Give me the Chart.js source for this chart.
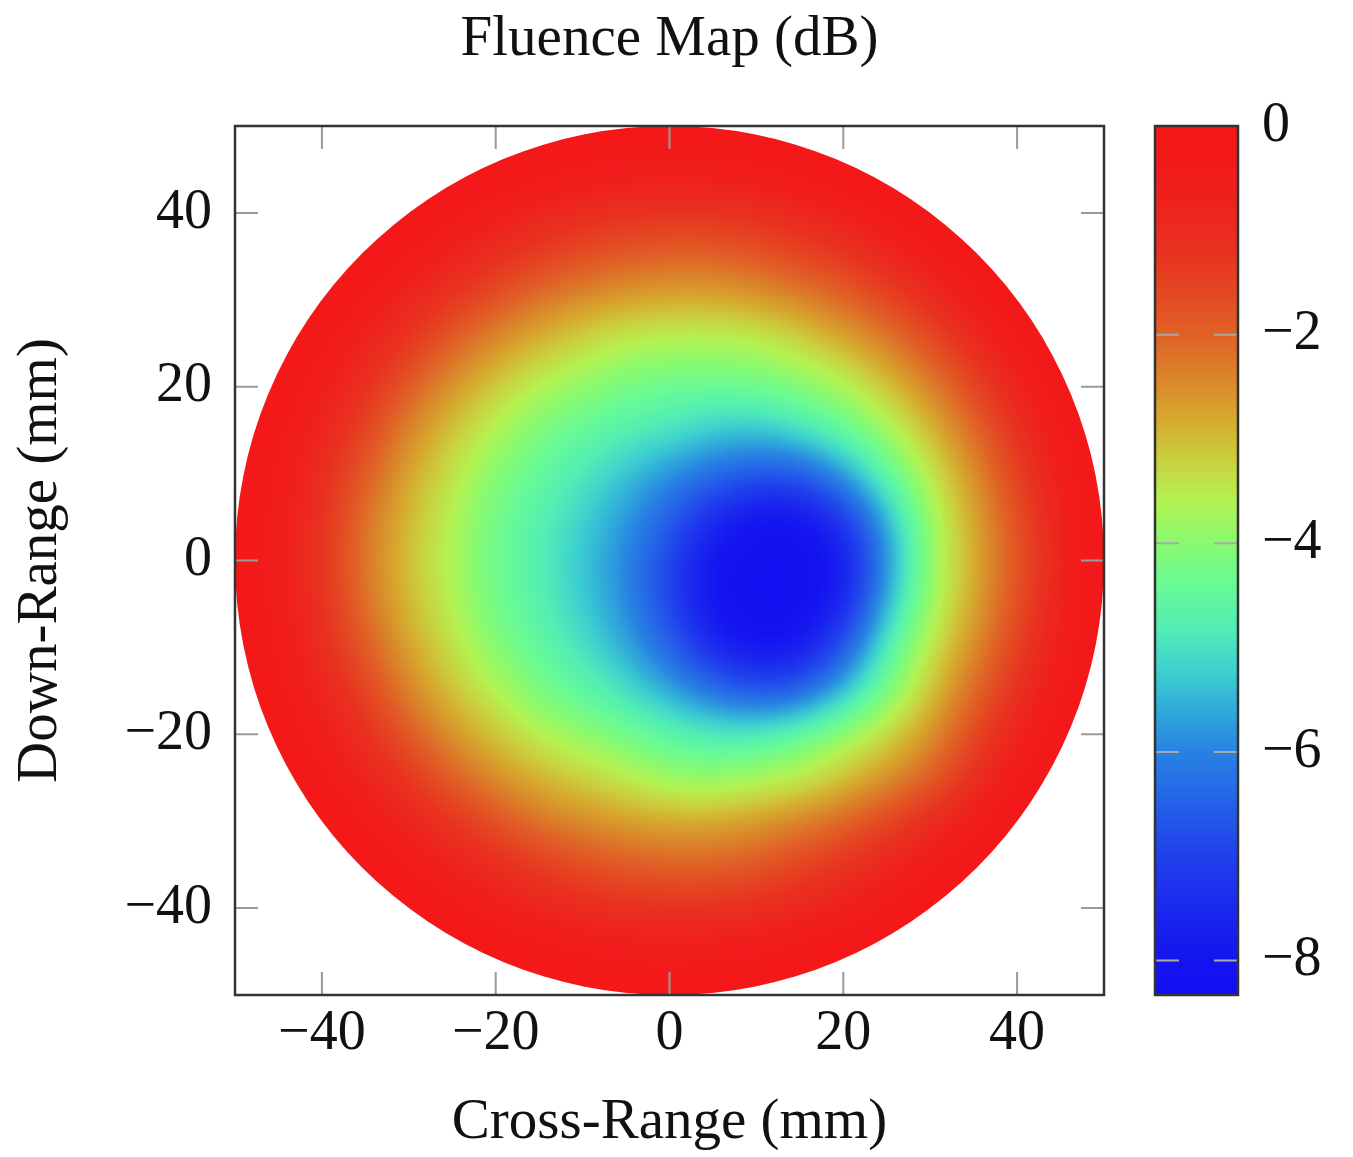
<!DOCTYPE html>
<html>
<head>
<meta charset="utf-8">
<title>Fluence Map</title>
<script src="https://cdn.jsdelivr.net/npm/chart.js@4.4.1/dist/chart.umd.min.js"></script>
<style>
  html, body { margin: 0; padding: 0; background: #fff; }
  canvas { display: block; }
</style>
</head>
<body>
<canvas id="fluenceChart" width="1353" height="1157"></canvas>
<script>
// Fluence over the aperture, sampled on a 5 mm grid (dB). null = outside the aperture.
const crossRange = [-50, -45, -40, -35, -30, -25, -20, -15, -10, -5, 0, 5, 10, 15, 20, 25, 30, 35, 40, 45, 50];
const downRange = [50, 45, 40, 35, 30, 25, 20, 15, 10, 5, 0, -5, -10, -15, -20, -25, -30, -35, -40, -45, -50];
const n = null;
const fluence = [
  [n, n, n, n, n, n, n, n, n, n, 0, n, n, n, n, n, n, n, n, n, n],
  [n, n, n, n, n, n, -0.06, -0.22, -0.38, -0.53, -0.56, -0.53, -0.41, -0.23, -0.06, n, n, n, n, n, n],
  [n, n, n, n, 0, -0.29, -0.57, -0.85, -1.02, -1.15, -1.21, -1.18, -1.09, -0.9, -0.65, -0.33, 0, n, n, n, n],
  [n, n, n, -0.05, -0.42, -0.76, -1.1, -1.4, -1.7, -1.9, -2.0, -2.0, -1.85, -1.55, -1.3, -0.9, -0.5, -0.06, n, n, n],
  [n, n, 0, -0.42, -0.85, -1.27, -1.77, -2.27, -2.55, -2.75, -2.85, -2.85, -2.7, -2.45, -2.07, -1.57, -1.05, -0.51, 0, n, n],
  [n, n, -0.31, -0.79, -1.28, -1.99, -2.55, -2.98, -3.32, -3.62, -3.72, -3.73, -3.65, -3.33, -2.88, -2.38, -1.7, -1.01, -0.38, n, n],
  [n, -0.08, -0.59, -1.13, -1.91, -2.62, -3.17, -3.64, -3.95, -4.22, -4.35, -4.4, -4.3, -4.06, -3.71, -3.1, -2.41, -1.56, -0.77, -0.1, n],
  [n, -0.28, -0.84, -1.5, -2.45, -3.11, -3.65, -4.18, -4.47, -4.75, -4.95, -5.25, -5.35, -5.0, -4.43, -3.79, -3.0, -2.12, -1.14, -0.36, n],
  [n, -0.43, -1.03, -1.91, -2.79, -3.41, -4.07, -4.49, -4.87, -5.35, -5.83, -6.3, -6.65, -6.6, -5.76, -4.48, -3.49, -2.55, -1.46, -0.57, n],
  [n, -0.52, -1.14, -2.2, -3.0, -3.6, -4.3, -4.69, -5.21, -5.77, -6.5, -7.5, -8.1, -8.1, -7.25, -5.49, -3.82, -2.8, -1.71, -0.71, n],
  [0, -0.56, -1.18, -2.3, -3.06, -3.69, -4.36, -4.76, -5.34, -5.95, -6.94, -8.1, -8.28, -8.28, -8.0, -5.9, -3.85, -2.9, -1.8, -0.77, 0],
  [n, -0.52, -1.13, -2.2, -3.0, -3.6, -4.3, -4.7, -5.27, -5.88, -6.95, -8.1, -8.32, -8.3, -7.7, -5.5, -3.8, -2.8, -1.7, -0.71, n],
  [n, -0.43, -1.02, -1.9, -2.77, -3.39, -4.07, -4.52, -4.98, -5.62, -6.43, -7.55, -8.1, -7.9, -6.8, -4.7, -3.45, -2.53, -1.44, -0.56, n],
  [n, -0.28, -0.83, -1.47, -2.44, -3.08, -3.61, -4.19, -4.56, -5.02, -5.62, -6.25, -6.74, -6.57, -5.4, -4.2, -3.1, -2.11, -1.11, -0.36, n],
  [n, -0.08, -0.58, -1.1, -1.88, -2.6, -3.12, -3.58, -3.92, -4.25, -4.6, -4.85, -4.8, -4.4, -3.85, -3.3, -2.6, -1.6, -0.76, -0.1, n],
  [n, n, -0.31, -0.77, -1.24, -1.96, -2.52, -2.93, -3.23, -3.52, -3.9, -3.95, -3.75, -3.55, -3.1, -2.6, -2.0, -1.1, -0.38, n, n],
  [n, n, 0, -0.42, -0.83, -1.22, -1.73, -2.27, -2.5, -2.7, -2.8, -2.8, -2.65, -2.4, -2.05, -1.52, -1.0, -0.51, 0, n, n],
  [n, n, n, -0.05, -0.42, -0.74, -1.04, -1.35, -1.7, -1.9, -2.0, -2.0, -1.85, -1.5, -1.2, -0.85, -0.49, -0.06, n, n, n],
  [n, n, n, n, 0, -0.29, -0.57, -0.82, -1.0, -1.12, -1.15, -1.15, -1.07, -0.9, -0.65, -0.33, 0, n, n, n, n],
  [n, n, n, n, n, n, -0.06, -0.22, -0.38, -0.53, -0.56, -0.53, -0.41, -0.23, -0.06, n, n, n, n, n, n],
  [n, n, n, n, n, n, n, n, n, n, 0, n, n, n, n, n, n, n, n, n, n]
];
const apertureRadius = 50; // mm

const axisTicks = [-40, -20, 0, 20, 40];
const colorTicks = [0, -2, -4, -6, -8];
const colorMin = -8.33;
const colorMax = 0;

// jet-like colour scale, dB -> rgb
const colorStops = [
  [0, [245, 22, 24]], [-0.6, [240, 30, 28]], [-1.2, [232, 50, 32]], [-1.6, [228, 72, 34]],
  [-2.0, [224, 98, 38]], [-2.4, [218, 132, 42]], [-2.8, [214, 168, 46]], [-3.2, [202, 208, 62]],
  [-3.6, [180, 242, 82]], [-4.0, [136, 250, 112]], [-4.4, [104, 250, 150]], [-4.8, [82, 238, 180]],
  [-5.2, [62, 210, 206]], [-5.6, [48, 170, 218]], [-6.0, [40, 130, 226]], [-6.5, [36, 96, 232]],
  [-7.0, [32, 64, 236]], [-7.5, [26, 40, 238]], [-8.0, [20, 20, 240]], [-8.35, [18, 14, 240]]
];

const serif = "'Liberation Serif', 'Times New Roman', serif";
const minus = v => (v < 0 ? '\u2212' + Math.abs(v) : String(v));

function colorFor(v) {
  if (v >= colorStops[0][0]) return colorStops[0][1];
  for (let k = 1; k < colorStops.length; k++) {
    const [v1, c1] = colorStops[k];
    if (v >= v1) {
      const [v0, c0] = colorStops[k - 1];
      const t = (v0 - v) / (v0 - v1);
      return [0, 1, 2].map(i => c0[i] + t * (c1[i] - c0[i]));
    }
  }
  return colorStops[colorStops.length - 1][1];
}

// cells outside the aperture take the rim value so the edge shades cleanly
function cell(r, c) {
  r = Math.max(0, Math.min(downRange.length - 1, r));
  c = Math.max(0, Math.min(crossRange.length - 1, c));
  const v = fluence[r][c];
  return v === null ? 0 : v;
}

// cubic B-spline weights: smooth shading across the grid nodes
function weights(t) {
  const t2 = t * t, t3 = t2 * t;
  return [(1 - t) * (1 - t) * (1 - t) / 6, (3 * t3 - 6 * t2 + 4) / 6, (-3 * t3 + 3 * t2 + 3 * t + 1) / 6, t3 / 6];
}

function shade(gx, gy) {
  const c = Math.floor(gx), r = Math.floor(gy);
  const wx = weights(gx - c), wy = weights(gy - r);
  let v = 0;
  for (let a = 0; a < 4; a++) {
    let row = 0;
    for (let b = 0; b < 4; b++) row += wx[b] * cell(r + a - 1, c + b - 1);
    v += wy[a] * row;
  }
  return v;
}

const gridPoints = [];
downRange.forEach((yv, r) => crossRange.forEach((xv, c) => {
  if (fluence[r][c] !== null) gridPoints.push({ x: xv, y: yv, v: fluence[r][c] });
}));

// fixed box sizes so the plot frame lands where it should
function fixBox(size) {
  return s => {
    if (s.isHorizontal()) s.height = size; else s.width = size;
    s.paddingTop = 0;
    s.paddingBottom = 0;
    s.paddingLeft = 0;
    s.paddingRight = 0;
  };
}

const fluencePlugin = {
  id: 'fluenceMap',
  beforeDatasetsDraw(chart) {
    const { ctx, chartArea: area, scales: { x, y } } = chart;
    const w = Math.round(area.right - area.left);
    const h = Math.round(area.bottom - area.top);
    const off = document.createElement('canvas');
    off.width = w;
    off.height = h;
    const octx = off.getContext('2d');
    const img = octx.createImageData(w, h);
    const step = crossRange[1] - crossRange[0];
    const xs = [];
    for (let i = 0; i < w; i++) xs.push(x.getValueForPixel(area.left + i + 0.5));
    const lim = (apertureRadius + 1) * (apertureRadius + 1);
    for (let j = 0; j < h; j++) {
      const yv = y.getValueForPixel(area.top + j + 0.5);
      const gy = (downRange[0] - yv) / step;
      for (let i = 0; i < w; i++) {
        const xv = xs[i];
        if (xv * xv + yv * yv > lim) continue;
        const v = Math.max(colorMin, Math.min(colorMax, shade((xv - crossRange[0]) / step, gy)));
        const col = colorFor(v);
        const p = (j * w + i) * 4;
        img.data[p] = col[0];
        img.data[p + 1] = col[1];
        img.data[p + 2] = col[2];
        img.data[p + 3] = 255;
      }
    }
    octx.putImageData(img, 0, 0);

    const cx = x.getPixelForValue(0), cy = y.getPixelForValue(0);
    const rad = x.getPixelForValue(apertureRadius) - cx;
    ctx.save();
    ctx.beginPath();
    ctx.arc(cx, cy, rad, 0, Math.PI * 2);
    ctx.clip();
    ctx.drawImage(off, area.left, area.top);
    ctx.restore();
  },
  afterDraw(chart) {
    const { ctx, chartArea: area, scales: { x, y, cb } } = chart;
    ctx.save();

    // inward tick marks on all four sides
    ctx.strokeStyle = '#9a9a9a';
    ctx.lineWidth = 2;
    const len = 23;
    ctx.beginPath();
    axisTicks.forEach(v => {
      const px = x.getPixelForValue(v);
      ctx.moveTo(px, area.bottom); ctx.lineTo(px, area.bottom - len);
      ctx.moveTo(px, area.top); ctx.lineTo(px, area.top + len);
      const py = y.getPixelForValue(v);
      ctx.moveTo(area.left, py); ctx.lineTo(area.left + len, py);
      ctx.moveTo(area.right, py); ctx.lineTo(area.right - len, py);
    });
    ctx.stroke();

    ctx.strokeStyle = '#333';
    ctx.lineWidth = 2.5;
    ctx.strokeRect(area.left, area.top, area.right - area.left, area.bottom - area.top);

    // colour bar
    const barLeft = cb.left + 51, barWidth = 83;
    const top = cb.getPixelForValue(colorMax), bottom = cb.getPixelForValue(colorMin);
    for (let py = Math.floor(top); py < bottom; py++) {
      const col = colorFor(cb.getValueForPixel(py + 0.5));
      ctx.fillStyle = `rgb(${col.map(Math.round).join(',')})`;
      ctx.fillRect(barLeft, py, barWidth, 1);
    }
    ctx.strokeStyle = '#a8a8a8';
    ctx.lineWidth = 2;
    ctx.beginPath();
    colorTicks.forEach(v => {
      const py = cb.getPixelForValue(v);
      ctx.moveTo(barLeft, py); ctx.lineTo(barLeft + 24, py);
      ctx.moveTo(barLeft + barWidth, py); ctx.lineTo(barLeft + barWidth - 24, py);
    });
    ctx.stroke();
    ctx.strokeStyle = '#333';
    ctx.lineWidth = 2.5;
    ctx.strokeRect(barLeft, top, barWidth, bottom - top);
    ctx.restore();
  }
};

const tickFont = { family: serif, size: 56 };
const labelFont = { family: serif, size: 57 };
const noGrid = { display: false, drawTicks: false };

new Chart(document.getElementById('fluenceChart'), {
  type: 'scatter',
  data: {
    datasets: [{
      label: 'Fluence',
      data: gridPoints,
      pointRadius: 0,
      pointHoverRadius: 0
    }]
  },
  options: {
    responsive: false,
    devicePixelRatio: 1,
    animation: false,
    events: [],
    layout: { padding: 0 },
    plugins: {
      legend: { display: false },
      tooltip: { enabled: false },
      title: {
        display: true,
        text: 'Fluence Map (dB)',
        fullSize: false,
        color: '#111',
        font: { family: serif, size: 57, weight: 'normal' },
        padding: { top: 6, bottom: 51.6 }
      }
    },
    scales: {
      x: {
        type: 'linear',
        position: 'bottom',
        min: -50,
        max: 50,
        grid: noGrid,
        border: { display: false },
        afterBuildTicks: s => { s.ticks = axisTicks.map(v => ({ value: v })); },
        afterFit: fixBox(162),
        ticks: { color: '#111', font: tickFont, padding: 6, maxRotation: 0, callback: minus },
        title: { display: true, text: 'Cross-Range (mm)', color: '#111', font: labelFont, padding: { top: 0, bottom: 0 } }
      },
      y: {
        type: 'linear',
        position: 'left',
        min: -50,
        max: 50,
        grid: noGrid,
        border: { display: false },
        afterBuildTicks: s => { s.ticks = axisTicks.map(v => ({ value: v })); },
        afterFit: fixBox(235),
        ticks: { color: '#111', font: tickFont, padding: 23, callback: minus },
        title: { display: true, text: 'Down-Range (mm)', color: '#111', font: labelFont, padding: { top: 7, bottom: 0 } }
      },
      cb: {
        type: 'linear',
        position: 'right',
        min: colorMin,
        max: colorMax,
        grid: noGrid,
        border: { display: false },
        afterBuildTicks: s => { s.ticks = colorTicks.map(v => ({ value: v })); },
        afterFit: fixBox(249),
        ticks: { color: '#111', font: tickFont, padding: 158, callback: minus }
      }
    }
  },
  plugins: [fluencePlugin]
});
</script>
</body>
</html>
